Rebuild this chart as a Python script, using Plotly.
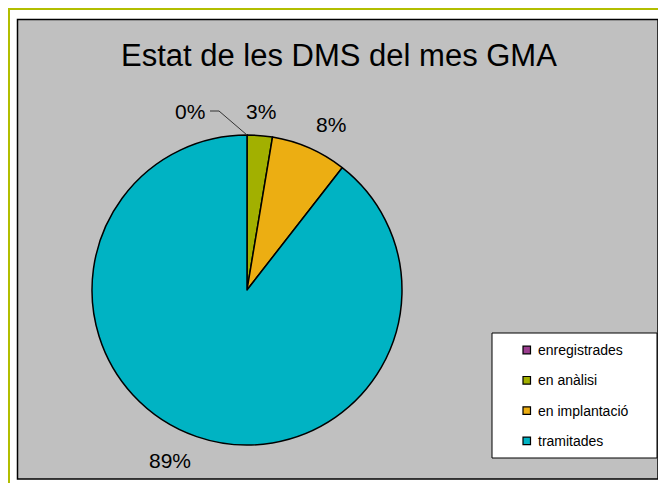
import math
import plotly.graph_objects as go

# ---- data ----
categories = ["enregistrades", "en anàlisi", "en implantació", "tramitades"]
counts = [0, 1, 3, 34]
pct_labels = ["0%", "3%", "8%", "89%"]
colors = ["#9B3D8F", "#A2B000", "#ECAE12", "#00B3C3"]
title_text = "Estat de les DMS del mes GMA"

W, H = 666, 483
FONT = "Liberation Sans, Arial, sans-serif"
OFF = 8  # page body margin offset of the figure in the screenshot


def px(x):
    return (x - OFF) / W


def py(y):
    return 1 - (y - OFF) / H


# pie geometry (screen pixels)
CX, CY, R = 247, 290, 155

fig = go.Figure()
fig.add_trace(go.Pie(
    labels=categories,
    values=counts,
    marker=dict(colors=colors, line=dict(color="black", width=1.5)),
    sort=False,
    direction="clockwise",
    rotation=0,
    textinfo="none",
    hoverinfo="label+percent",
    showlegend=False,
    domain=dict(x=[px(CX - R), px(CX + R)], y=[py(CY + R), py(CY - R)]),
))

shapes = []
annotations = []

# outer chart border (olive) and plot area (gray)
shapes.append(dict(type="rect", xref="paper", yref="paper",
                   x0=px(8.5), x1=px(720), y0=py(560), y1=py(8.5),
                   line=dict(color="#B2BE00", width=3), fillcolor="white", layer="below"))
shapes.append(dict(type="rect", xref="paper", yref="paper",
                   x0=px(17.5), x1=px(658), y0=py(479), y1=py(19.5),
                   line=dict(color="black", width=1.5), fillcolor="#C0C0C0", layer="below"))

# title
annotations.append(dict(text=title_text, x=px(338.5), y=py(56), xref="paper", yref="paper",
                        showarrow=False, xanchor="center", yanchor="middle",
                        font=dict(family=FONT, size=31, color="black")))

# percentage labels around the pie
LAB_SIZE = 21
LAB_R = 166
total = sum(counts)
cum = 0
for cat, v, lab in zip(categories, counts, pct_labels):
    start = cum / total * 360
    cum += v
    end = cum / total * 360
    mid = math.radians((start + end) / 2)
    s, c = math.sin(mid), math.cos(mid)
    if v == 0:
        # zero slice: label pushed left with a leader line to the pie edge
        lx, ly = CX - 40, CY - R - 24
        annotations.append(dict(text=lab, x=px(lx), y=py(ly), xref="paper", yref="paper",
                                showarrow=False, xanchor="right", yanchor="middle",
                                font=dict(family=FONT, size=LAB_SIZE, color="black")))
        ex, ey = CX + R * s, CY - R * c
        shapes.append(dict(type="path", xref="paper", yref="paper",
                           path=f"M {px(lx+3)} {py(ly)} L {px(lx+12)} {py(ly)} L {px(ex)} {py(ey)}",
                           line=dict(color="#333333", width=1)))
        continue
    ax, ay = CX + LAB_R * s, CY - LAB_R * c
    xa = "left" if s > 0.3 else ("right" if s < -0.3 else "center")
    ya = "bottom" if c > 0 else "top"
    annotations.append(dict(text=lab, x=px(ax), y=py(ay), xref="paper", yref="paper",
                            showarrow=False, xanchor=xa, yanchor=ya,
                            font=dict(family=FONT, size=LAB_SIZE, color="black")))

# legend box
shapes.append(dict(type="rect", xref="paper", yref="paper",
                   x0=px(492), x1=px(657), y0=py(458), y1=py(333),
                   line=dict(color="black", width=1), fillcolor="white"))
for i, (cat, col) in enumerate(zip(categories, colors)):
    yc = 350 + i * 30.3
    shapes.append(dict(type="rect", xref="paper", yref="paper",
                       x0=px(523), x1=px(530.5), y0=py(yc + 3.8), y1=py(yc - 3.8),
                       line=dict(color="black", width=1.2), fillcolor=col))
    annotations.append(dict(text=cat, x=px(536), y=py(yc), xref="paper", yref="paper",
                            showarrow=False, xanchor="left", yanchor="middle",
                            font=dict(family=FONT, size=14, color="black")))

fig.update_layout(
    width=W, height=H,
    margin=dict(l=0, r=0, t=0, b=0),
    paper_bgcolor="white",
    plot_bgcolor="white",
    shapes=shapes,
    annotations=annotations,
    showlegend=False,
)

fig.write_html("out.html")
